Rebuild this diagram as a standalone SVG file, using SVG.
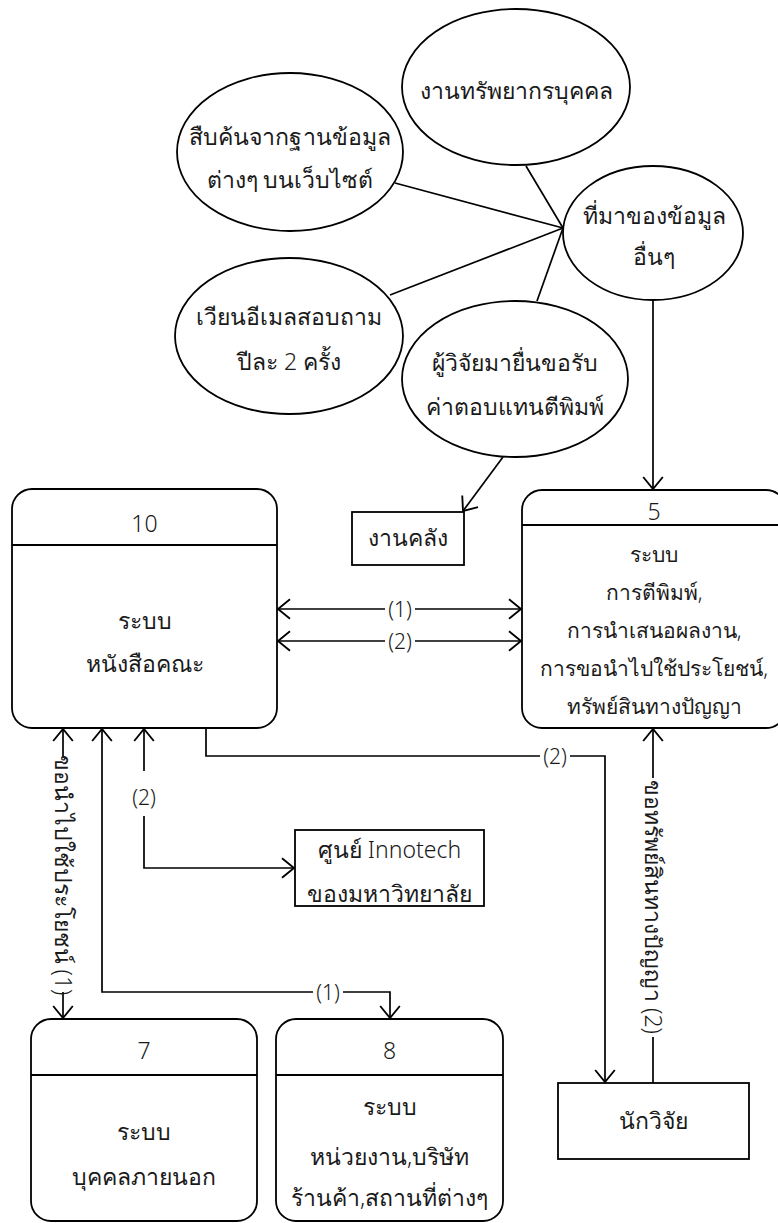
<svg xmlns="http://www.w3.org/2000/svg" width="778" height="1223" viewBox="0 0 778 1223">
  <defs>
    <style>
      .shape { fill: #ffffff; stroke: #000000; stroke-width: 1.8; }
      .rule { stroke: #000000; stroke-width: 1.8; fill: none; }
      .wire { stroke: #000000; stroke-width: 1.7; fill: none; }
      .t { font-family: "Noto Sans", "DejaVu Sans", sans-serif; font-size: 23px; font-weight: 300; fill: #1a1a1a; text-anchor: middle; }
      .t5 { font-family: "Noto Sans", "DejaVu Sans", sans-serif; font-size: 21px; font-weight: 300; fill: #1a1a1a; text-anchor: middle; }
      .num { font-family: "Noto Sans", "DejaVu Sans", sans-serif; font-size: 23px; font-weight: 300; fill: #1a1a1a; text-anchor: middle; }
      .lbl { font-family: "Noto Sans", "DejaVu Sans", sans-serif; font-size: 21px; font-weight: 300; fill: #1a1a1a; text-anchor: middle; }
      .mask { fill: #ffffff; stroke: none; }
    </style>
    <marker id="arrow" markerUnits="userSpaceOnUse" markerWidth="24" markerHeight="24" viewBox="-13 -11 15 22" refX="0" refY="0" orient="auto-start-reverse">
      <path d="M-11,-9 L0,0 L-11,9" fill="none" stroke="#000000" stroke-width="1.7"/>
    </marker>
  </defs>

  <rect width="778" height="1223" fill="#ffffff"/>

  <!-- connectors -->
  <g id="connectors">
    <!-- spokes into the data-source hub -->
    <path class="wire" d="M526,166 L563,228"/>
    <path class="wire" d="M395,183 L563,228"/>
    <path class="wire" d="M390,295 L563,228"/>
    <path class="wire" d="M563,228 L537,301"/>
    <!-- other sources -> system 5 -->
    <path class="wire" d="M653,300 V489" marker-end="url(#arrow)"/>
    <!-- researcher request -> finance -->
    <path class="wire" d="M503,457 L463,511" marker-end="url(#arrow)"/>
    <!-- system 10 <-> system 5 -->
    <path class="wire" d="M278,609 H521" marker-start="url(#arrow)" marker-end="url(#arrow)"/>
    <path class="wire" d="M278,641 H521" marker-start="url(#arrow)" marker-end="url(#arrow)"/>
    <!-- system 10 <-> system 7 -->
    <path class="wire" d="M63,729 V1018" marker-start="url(#arrow)" marker-end="url(#arrow)"/>
    <!-- system 10 <-> system 8 -->
    <path class="wire" d="M102,729 V992 H390 V1018" marker-start="url(#arrow)" marker-end="url(#arrow)"/>
    <!-- system 10 <-> Innotech -->
    <path class="wire" d="M144,729 V771" marker-start="url(#arrow)"/>
    <path class="wire" d="M144,816 V868 H294" marker-end="url(#arrow)"/>
    <!-- system 10 -> researcher -->
    <path class="wire" d="M206,728 V756 H605 V1082" marker-end="url(#arrow)"/>
    <!-- researcher -> system 5 -->
    <path class="wire" d="M653,1083 V729" marker-end="url(#arrow)"/>

    <!-- flow labels -->
    <rect class="mask" x="385" y="597" width="30" height="24"/>
    <text class="lbl" x="400" y="617">(1)</text>
    <rect class="mask" x="385" y="629" width="30" height="24"/>
    <text class="lbl" x="400" y="649">(2)</text>
    <rect class="mask" x="540" y="744" width="30" height="24"/>
    <text class="lbl" x="555" y="764">(2)</text>
    <rect class="mask" x="313" y="980" width="30" height="24"/>
    <text class="lbl" x="328" y="1000">(1)</text>
    <text class="lbl" x="144" y="805">(2)</text>
    <rect class="mask" x="51" y="758" width="24" height="234"/>
    <text class="t" transform="translate(63,875) rotate(90)" x="0" y="8">ขอนำไปใช้ประโยชน์ (1)</text>
    <rect class="mask" x="641" y="778" width="24" height="259"/>
    <text class="t" transform="translate(653,907) rotate(90)" x="0" y="8">ขอทรัพย์สินทางปัญญา (2)</text>
  </g>

  <!-- data sources -->
  <g id="hr">
    <ellipse class="shape" cx="516" cy="87" rx="114" ry="78"/>
    <text class="t" x="516" y="99">งานทรัพยากรบุคคล</text>
  </g>
  <g id="web-search">
    <ellipse class="shape" cx="290" cy="152" rx="113" ry="79"/>
    <text class="t" x="290" y="145" textLength="202" lengthAdjust="spacingAndGlyphs">สืบค้นจากฐานข้อมูล</text>
    <text class="t" x="290" y="188">ต่างๆ บนเว็บไซต์</text>
  </g>
  <g id="other-sources">
    <ellipse class="shape" cx="653" cy="233" rx="90" ry="67"/>
    <text class="t" x="654" y="224">ที่มาของข้อมูล</text>
    <text class="t" x="654" y="265">อื่นๆ</text>
  </g>
  <g id="email-survey">
    <ellipse class="shape" cx="289" cy="336" rx="114" ry="78"/>
    <text class="t" x="289" y="325">เวียนอีเมลสอบถาม</text>
    <text class="t" x="289" y="370">ปีละ 2 ครั้ง</text>
  </g>
  <g id="researcher-claim">
    <ellipse class="shape" cx="515" cy="379" rx="113" ry="78"/>
    <text class="t" x="515" y="371">ผู้วิจัยมายื่นขอรับ</text>
    <text class="t" x="515" y="415">ค่าตอบแทนตีพิมพ์</text>
  </g>

  <!-- external entities -->
  <g id="finance">
    <rect class="shape" x="352" y="512" width="112" height="53"/>
    <text class="t" x="408" y="546">งานคลัง</text>
  </g>
  <g id="innotech">
    <rect class="shape" x="295" y="830" width="189" height="76"/>
    <text class="t" x="389.5" y="858">ศูนย์ Innotech</text>
    <text class="t" x="389.5" y="902">ของมหาวิทยาลัย</text>
  </g>
  <g id="researcher">
    <rect class="shape" x="558" y="1083" width="191" height="76"/>
    <text class="t" x="653.5" y="1129">นักวิจัย</text>
  </g>

  <!-- processes -->
  <g id="process-10">
    <rect class="shape" x="12" y="489" width="265" height="239" rx="20"/>
    <line class="rule" x1="12" y1="545" x2="277" y2="545"/>
    <text class="num" x="144.5" y="532">10</text>
    <text class="t" x="144.5" y="629">ระบบ</text>
    <text class="t" x="144.5" y="672">หนังสือคณะ</text>
  </g>
  <g id="process-5">
    <rect class="shape" x="522" y="490" width="264" height="238" rx="20"/>
    <line class="rule" x1="522" y1="525" x2="786" y2="525"/>
    <text class="num" x="654" y="520">5</text>
    <text class="t5" x="654" y="562">ระบบ</text>
    <text class="t5" x="654" y="600">การตีพิมพ์,</text>
    <text class="t5" x="654" y="638">การนำเสนอผลงาน,</text>
    <text class="t5" x="654" y="676">การขอนำไปใช้ประโยชน์,</text>
    <text class="t5" x="654" y="714">ทรัพย์สินทางปัญญา</text>
  </g>
  <g id="process-7">
    <rect class="shape" x="31" y="1019" width="226" height="202" rx="20"/>
    <line class="rule" x1="31" y1="1075" x2="257" y2="1075"/>
    <text class="num" x="144" y="1059">7</text>
    <text class="t" x="144" y="1140">ระบบ</text>
    <text class="t" x="144" y="1185">บุคคลภายนอก</text>
  </g>
  <g id="process-8">
    <rect class="shape" x="276" y="1019" width="227" height="202" rx="20"/>
    <line class="rule" x1="276" y1="1075" x2="503" y2="1075"/>
    <text class="num" x="389.5" y="1059">8</text>
    <text class="t" x="389.5" y="1115">ระบบ</text>
    <text class="t" x="389.5" y="1165">หน่วยงาน,บริษัท</text>
    <text class="t" x="389.5" y="1206">ร้านค้า,สถานที่ต่างๆ</text>
  </g>
</svg>
